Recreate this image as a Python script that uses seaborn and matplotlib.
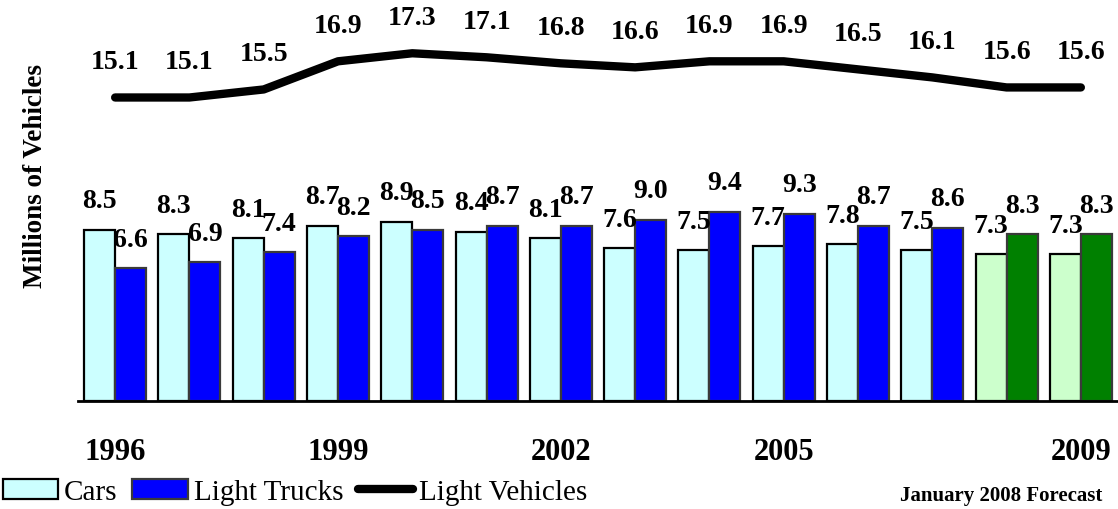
import numpy as np
import pandas as pd
import matplotlib
matplotlib.use("Agg")
import matplotlib.pyplot as plt
import seaborn as sns
from matplotlib.patches import Patch
from matplotlib.lines import Line2D

# data
years = [str(y) for y in range(1996, 2010)]
cars = [8.5, 8.3, 8.1, 8.7, 8.9, 8.4, 8.1, 7.6, 7.5, 7.7, 7.8, 7.5, 7.3, 7.3]
light_trucks = [6.6, 6.9, 7.4, 8.2, 8.5, 8.7, 8.7, 9.0, 9.4, 9.3, 8.7, 8.6, 8.3, 8.3]
light_vehicles = [15.1, 15.1, 15.5, 16.9, 17.3, 17.1, 16.8, 16.6, 16.9, 16.9, 16.5, 16.1, 15.6, 15.6]
forecast_years = ["2008", "2009"]
tick_years = ["1996", "1999", "2002", "2005", "2009"]

# colours
CAR_COL = "#CCFFFF"
TRUCK_COL = "#0000FF"
CAR_FC_COL = "#CCFFCC"
TRUCK_FC_COL = "#008000"

sns.set_theme(style="white")
plt.rcParams["font.family"] = ["Liberation Serif", "DejaVu Serif"]
plt.rcParams["text.color"] = "black"
plt.rcParams["xtick.color"] = "black"

df = pd.DataFrame({
    "year": years * 2,
    "value": cars + light_trucks,
    "type": ["Cars"] * len(years) + ["Light Trucks"] * len(years),
})

fig = plt.figure(figsize=(11.18, 5.10), dpi=100)
ax = fig.add_axes([78 / 1118, 108 / 510, 1 - 78 / 1118, 1 - 108 / 510])

sns.barplot(data=df, x="year", y="value", hue="type", order=years,
            palette=[CAR_COL, TRUCK_COL], saturation=1, width=0.836,
            legend=False, edgecolor="#333333", linewidth=1.6, ax=ax)

# forecast bars in green, edges
car_bars, truck_bars = ax.containers[0], ax.containers[1]
for i, yr in enumerate(years):
    car_bars[i].set_edgecolor("black")
    truck_bars[i].set_edgecolor("#3a3a3a")
    if yr in forecast_years:
        car_bars[i].set_facecolor(CAR_FC_COL)
        truck_bars[i].set_facecolor(TRUCK_FC_COL)

lbl_kw = dict(fontsize=20, fontweight="bold", color="black")
ax.bar_label(car_bars, fmt="%.1f", padding=12, **lbl_kw)
ax.bar_label(truck_bars, fmt="%.1f", padding=12, **lbl_kw)

# total line
xs = np.arange(len(years))
sns.lineplot(x=xs, y=light_vehicles, color="black", linewidth=6,
             solid_capstyle="round", ax=ax)
for x, v in zip(xs, light_vehicles):
    ax.annotate(f"{v:.1f}", (x, v), xytext=(0, 17), textcoords="offset points",
                ha="center", va="bottom", **lbl_kw)

ax.set_xlim(-0.5, len(years) - 0.5)
ax.set_ylim(0, 20)
ax.set_yticks([])
ax.set_xticks([years.index(t) for t in tick_years])
ax.set_xticklabels(tick_years, fontsize=22, fontweight="bold", color="black")
ax.tick_params(axis="x", length=0, pad=26)
ax.set_xlabel("")
ax.set_ylabel("")
for s in ["top", "right", "left"]:
    ax.spines[s].set_visible(False)
ax.spines["bottom"].set_color("black")
ax.spines["bottom"].set_linewidth(2)
ax.patch.set_alpha(0)

fig.text(36 / 1118, 1 - 176 / 510, "Millions of Vehicles", rotation=90,
         ha="center", va="center", fontsize=19.5, fontweight="bold",
         color="black")

handles = [
    Patch(facecolor=CAR_COL, edgecolor="black", linewidth=1.6, label="Cars"),
    Patch(facecolor=TRUCK_COL, edgecolor="#3a3a3a", linewidth=1.6, label="Light Trucks"),
    Line2D([0], [0], color="black", linewidth=6, label="Light Vehicles"),
]
leg = fig.legend(handles=handles, loc="center left", bbox_to_anchor=(0.0, 17 / 510),
                 ncol=3, frameon=False, fontsize=21, handlelength=1.9,
                 handleheight=0.7, handletextpad=0.2, columnspacing=0.5,
                 borderpad=0.1, borderaxespad=0)
for t in leg.get_texts():
    t.set_color("black")

fig.text(1102 / 1118, 14 / 510, "January 2008 Forecast", ha="right",
         va="center", fontsize=15, fontweight="bold", color="black")

fig.savefig("out.png", dpi=100)
